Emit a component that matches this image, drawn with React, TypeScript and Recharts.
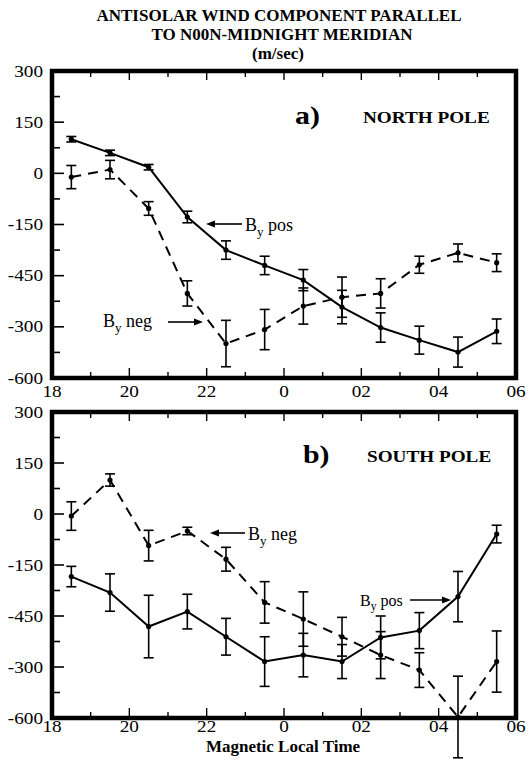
import React from 'react';
import { LineChart, Line, XAxis, YAxis, ErrorBar, ReferenceArea } from 'recharts';

// Magnetic local time (hours; values past midnight written as 24+)
const hours = [18.5, 19.5, 20.5, 21.5, 22.5, 23.5, 24.5, 25.5, 26.5, 27.5, 28.5, 29.5];

// a) North pole
const northPos = [100, 60, 18, -128, -225, -270, -313, -392, -452, -489, -524, -463];
const northPosErr = [8, 8, 8, 17, 27, 27, 31, 49, 43, 41, 44, 36];
const northNeg = [-11, 11, -103, -352, -499, -458, -389, -363, -352, -268, -233, -262];
const northNegErr = [34, 27, 20, 37, 68, 59, 53, 59, 43, 25, 26, 26];

// b) South pole
const southPos = [-184, -231, -331, -287, -361, -434, -415, -434, -363, -343, -243, -59];
const southPosErr = [30, 55, 92, 51, 54, 73, 64, 50, 63, 53, 74, 26];
const southNeg = [-6, 100, -93, -50, -133, -260, -309, -361, -415, -459, -597, -434];
const southNegErr = [42, 18, 45, 11, 35, 61, 80, 57, 69, 51, 120, 90];

// axis ticks and labels (as printed)
const xMajorTicks = [18, 20, 22, 24, 26, 28, 30];
const xTickLabels = ['18', '20', '22', '0', '02', '04', '06'];
const xMinorTicks = [19, 21, 23, 25, 27, 29];
const yMajorTicks = [300, 150, 0, -150, -300, -450, -600];
const yTickLabels = ['300', '150', '0', '-150', '-450', '-300', '-600'];
const yMinorTicks = [225, 75, -75, -225, -375, -525];

const allX = [...xMajorTicks, ...xMinorTicks].sort((a, b) => a - b);
const allY = [...yMajorTicks, ...yMinorTicks].sort((a, b) => b - a);

const SERIF = "'Liberation Serif', 'Times New Roman', serif";

function makeTable(pos: number[], posErr: number[], neg: number[], negErr: number[]) {
  return hours.map((t, i) => ({ t, pos: pos[i], posErr: posErr[i], neg: neg[i], negErr: negErr[i] }));
}

const northData = makeTable(northPos, northPosErr, northNeg, northNegErr);
const southData = makeTable(southPos, southPosErr, southNeg, southNegErr);

const LeftTick = (props: any) => {
  const { x, y, payload } = props;
  const idx = yMajorTicks.indexOf(payload.value);
  const major = idx >= 0;
  return (
    <g>
      <line x1={x} x2={x + (major ? 12 : 8)} y1={y} y2={y} stroke="#000" strokeWidth={1.6} />
      {major && (
        <text
          transform={`translate(${x - 9},${y}) scale(1.2,1)`}
          textAnchor="end"
          dy="0.35em"
          fontFamily={SERIF}
          fontSize={16}
          fill="#000"
        >
          {yTickLabels[idx]}
        </text>
      )}
    </g>
  );
};

const RightTick = (props: any) => {
  const { x, y, payload } = props;
  const major = yMajorTicks.indexOf(payload.value) >= 0;
  return <line x1={x} x2={x - (major ? 12 : 8)} y1={y} y2={y} stroke="#000" strokeWidth={1.6} />;
};

const TopTick = (props: any) => {
  const { x, y, payload } = props;
  const major = xMajorTicks.indexOf(payload.value) >= 0;
  return <line x1={x} x2={x} y1={y} y2={y + (major ? 9 : 6)} stroke="#000" strokeWidth={1.4} />;
};

const BottomTick = (props: any) => {
  const { x, y, payload, labelDy } = props;
  const idx = xMajorTicks.indexOf(payload.value);
  const major = idx >= 0;
  return (
    <g>
      <line x1={x} x2={x} y1={y} y2={y - (major ? 10 : 6)} stroke="#000" strokeWidth={1.4} />
      {major && (
        <text
          transform={`translate(${x},${y + labelDy}) scale(1.2,1)`}
          textAnchor="middle"
          fontFamily={SERIF}
          fontSize={16}
          fill="#000"
        >
          {xTickLabels[idx]}
        </text>
      )}
    </g>
  );
};

const dotStyle = { r: 2.6, fill: '#000', stroke: '#000', strokeWidth: 0 };

function Panel({ data, height, top, bottomH, labelDy }: any) {
  return (
    <LineChart width={530} height={height} data={data} margin={{ top, right: 13, bottom: 0, left: 0 }}>
      <XAxis
        xAxisId="b"
        dataKey="t"
        type="number"
        domain={[18, 30]}
        ticks={allX}
        interval={0}
        orientation="bottom"
        height={bottomH}
        axisLine={false}
        tickLine={false}
        tickSize={0}
        tickMargin={0}
        allowDataOverflow
        tick={<BottomTick labelDy={labelDy} />}
      />
      <XAxis
        xAxisId="t"
        dataKey="t"
        type="number"
        domain={[18, 30]}
        ticks={allX}
        interval={0}
        orientation="top"
        height={1}
        axisLine={false}
        tickLine={false}
        tickSize={0}
        tickMargin={0}
        tick={TopTick}
      />
      <YAxis
        yAxisId="l"
        type="number"
        domain={[-600, 300]}
        ticks={allY}
        interval={0}
        width={52}
        axisLine={false}
        tickLine={false}
        tickSize={0}
        tickMargin={0}
        allowDataOverflow
        tick={LeftTick}
      />
      <YAxis
        yAxisId="r"
        orientation="right"
        type="number"
        domain={[-600, 300]}
        ticks={allY}
        interval={0}
        width={1}
        axisLine={false}
        tickLine={false}
        tickSize={0}
        tickMargin={0}
        tick={RightTick}
      />
      <Line
        xAxisId="b"
        yAxisId="l"
        dataKey="neg"
        stroke="#000"
        strokeWidth={2}
        strokeDasharray="10 7"
        dot={dotStyle}
        isAnimationActive={false}
      >
        <ErrorBar dataKey="negErr" width={5} stroke="#000" strokeWidth={1.6} direction="y" />
      </Line>
      <Line
        xAxisId="b"
        yAxisId="l"
        dataKey="pos"
        stroke="#000"
        strokeWidth={2}
        dot={dotStyle}
        isAnimationActive={false}
      >
        <ErrorBar dataKey="posErr" width={5} stroke="#000" strokeWidth={1.6} direction="y" />
      </Line>
      <ReferenceArea
        xAxisId="b"
        yAxisId="l"
        x1={18}
        x2={30}
        y1={-600}
        y2={300}
        fill="none"
        fillOpacity={0}
        stroke="#000"
        strokeWidth={4.5}
        ifOverflow="visible"
      />
    </LineChart>
  );
}

const T = ({ x, y, sx = 1, size, bold = false, anchor = 'start', children }: any) => (
  <text
    transform={`translate(${x},${y}) scale(${sx},1)`}
    fontFamily={SERIF}
    fontSize={size}
    fontWeight={bold ? 'bold' : 'normal'}
    textAnchor={anchor}
    fill="#000"
  >
    {children}
  </text>
);

const Arrow = ({ x1, x2, y }: any) => {
  const dir = Math.sign(x2 - x1);
  return (
    <g>
      <line x1={x1} y1={y} x2={x2 - dir * 6} y2={y} stroke="#000" strokeWidth={1.6} />
      <polygon points={`${x2},${y} ${x2 - dir * 9},${y - 3.5} ${x2 - dir * 9},${y + 3.5}`} fill="#000" />
    </g>
  );
};

const ByLabel = ({ x, y, size, word }: any) => (
  <T x={x} y={y} size={size}>
    B
    <tspan dy={size * 0.25} fontSize={size * 0.72}>
      y
    </tspan>
    <tspan dy={-size * 0.25}> {word}</tspan>
  </T>
);

const Overlay = () => (
  <svg width={530} height={764} style={{ position: 'absolute', left: 0, top: 0, pointerEvents: 'none' }}>
    <T x={279} y={21} size={17} bold anchor="middle">ANTISOLAR WIND COMPONENT PARALLEL</T>
    <T x={282} y={40} size={17} bold anchor="middle">TO N00N-MIDNIGHT MERIDIAN</T>
    <T x={278} y={59} size={17} bold anchor="middle">(m/sec)</T>

    <T x={295} y={124} size={26} bold sx={1.15}>a)</T>
    <T x={363} y={123} size={16} bold sx={1.2}>NORTH POLE</T>
    <Arrow x1={242} x2={206} y={224} />
    <ByLabel x={245} y={231} size={18} word="pos" />
    <ByLabel x={103} y={327} size={18} word="neg" />
    <Arrow x1={168} x2={203} y={322} />

    <T x={303} y={463} size={26} bold sx={1.15}>b)</T>
    <T x={367} y={462} size={16} bold sx={1.2}>SOUTH POLE</T>
    <Arrow x1={245} x2={210} y={533} />
    <ByLabel x={248} y={540} size={18} word="neg" />
    <ByLabel x={360} y={606} size={16} word="pos" />
    <Arrow x1={410} x2={451} y={600} />

    <T x={283} y={752} size={17} bold anchor="middle">Magnetic Local Time</T>
  </svg>
);

export default function App() {
  return (
    <div style={{ position: 'absolute', left: 0, top: 0, width: 530, height: 764, background: '#fff' }}>
      <div style={{ position: 'absolute', left: 0, top: 0 }}>
        <Panel data={northData} height={408} top={70} bottomH={30} labelDy={19} />
      </div>
      <div style={{ position: 'absolute', left: 0, top: 390 }}>
        <Panel data={southData} height={374} top={21} bottomH={46} labelDy={14} />
      </div>
      <Overlay />
    </div>
  );
}
